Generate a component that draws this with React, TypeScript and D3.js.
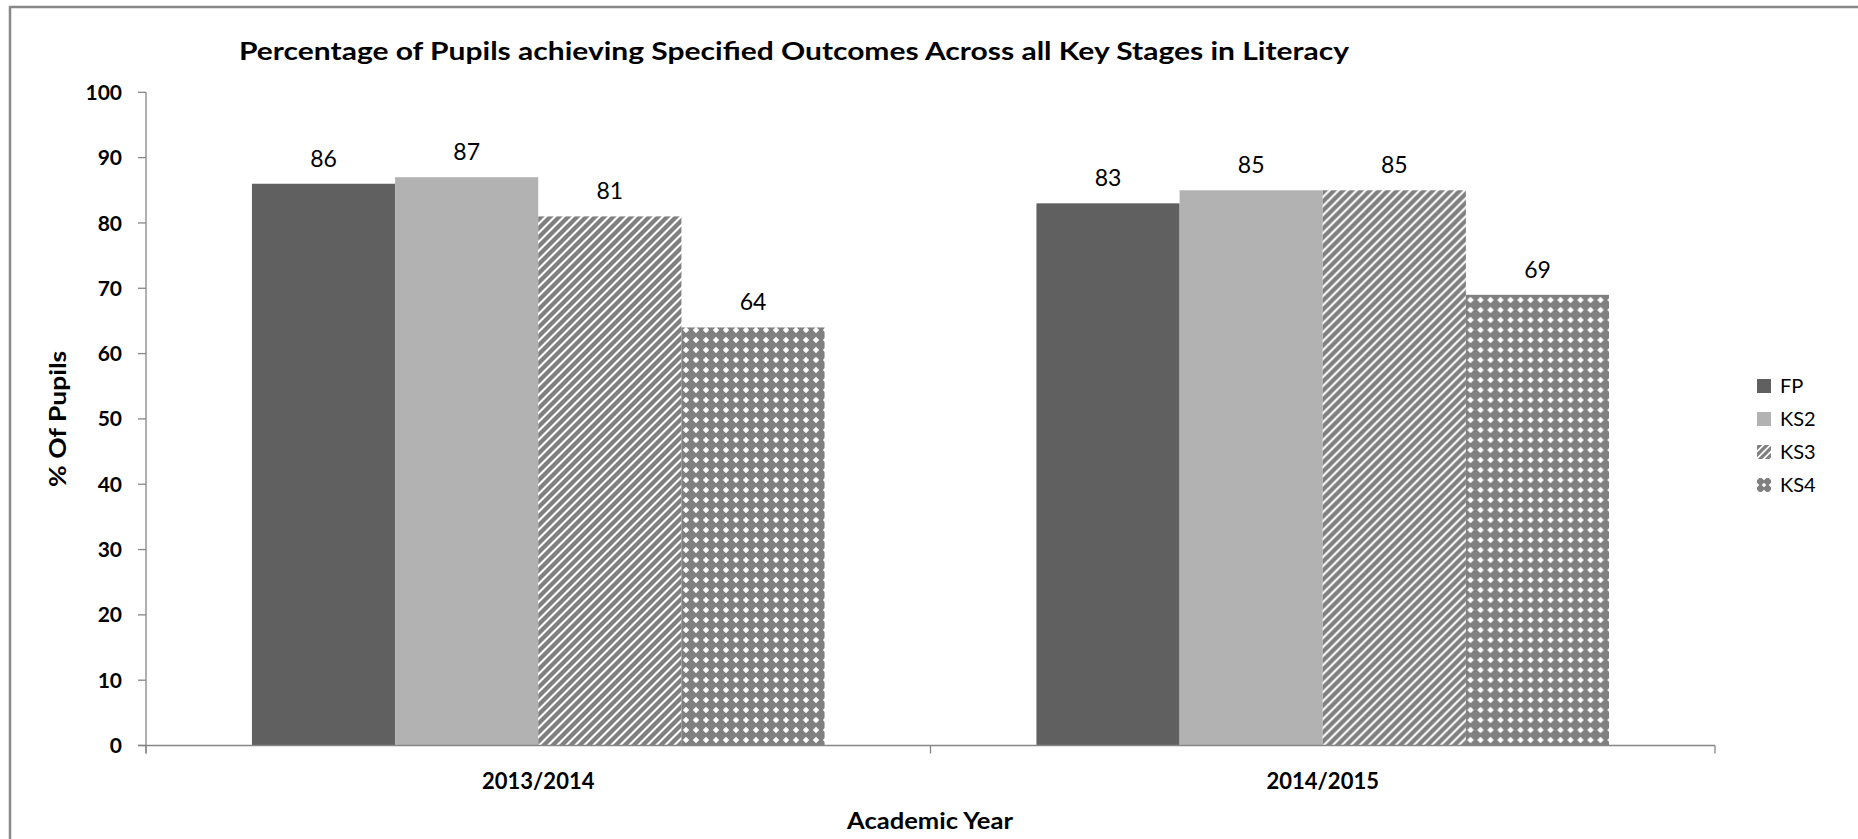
import React from 'react';
import * as d3 from 'd3';

const categories = ['2013/2014', '2014/2015'];
const seriesNames = ['FP', 'KS2', 'KS3', 'KS4'];
const fpValues = [86, 83];
const ks2Values = [87, 85];
const ks3Values = [81, 85];
const ks4Values = [64, 69];
const yTicks = [0, 10, 20, 30, 40, 50, 60, 70, 80, 90, 100];
const titleText = 'Percentage of Pupils achieving Specified Outcomes Across all Key Stages in Literacy';
const yAxisTitle = '% Of Pupils';
const xAxisTitle = 'Academic Year';

const W = 1858;
const H = 839;
const FONT = 'Lato, "Open Sans", sans-serif';
const AXIS = '#868686';
const PAT = '#808080';

const seriesValues: number[][] = [fpValues, ks2Values, ks3Values, ks4Values];
const fills = ['#606060', '#b2b2b2', 'url(#ks3pat)', 'url(#ks4pat)'];

export default function App() {
  const x0 = d3.scaleBand<string>().domain(categories).range([146, 1715]).paddingInner(0).paddingOuter(0);
  const x1 = d3.scaleBand<string>().domain(seriesNames).range([0, x0.bandwidth()]).paddingInner(0).paddingOuter(0.74);
  const y = d3.scaleLinear().domain([0, 100]).range([745.5, 92.3]);
  const plotLeft = x0.range()[0];
  const plotRight = x0.range()[1];
  const y0 = y(0);

  const legendY = [386, 419, 452, 485];

  return (
    <svg width={W} height={H} style={{ position: 'absolute', left: 0, top: 0 }} fontFamily={FONT}>
      <defs>
        <pattern id="ks3pat" patternUnits="userSpaceOnUse" width={9} height={9}>
          <rect width={9} height={9} fill="#ffffff" />
          <path d="M-2.25,2.25 L2.25,-2.25 M0,9 L9,0 M6.75,11.25 L11.25,6.75" stroke={PAT} strokeWidth={4.3} />
        </pattern>
        <pattern id="ks4pat" patternUnits="userSpaceOnUse" width={10} height={10}>
          <rect width={10} height={10} fill={PAT} />
          <path d="M0,-3.2 L3.2,0 L0,3.2 L-3.2,0 Z M10,-3.2 L13.2,0 L10,3.2 L6.8,0 Z M0,6.8 L3.2,10 L0,13.2 L-3.2,10 Z M10,6.8 L13.2,10 L10,13.2 L6.8,10 Z" fill="#ffffff" />
        </pattern>
        <pattern id="ks4leg" patternUnits="userSpaceOnUse" width={7} height={7} x={1757} y={478}>
          <rect width={7} height={7} fill={PAT} />
          <path d="M0,-2.3 L2.3,0 L0,2.3 L-2.3,0 Z M7,-2.3 L9.3,0 L7,2.3 L4.7,0 Z M0,4.7 L2.3,7 L0,9.3 L-2.3,7 Z M7,4.7 L9.3,7 L7,9.3 L4.7,7 Z" fill="#ffffff" />
        </pattern>
        <pattern id="ks3leg" patternUnits="userSpaceOnUse" width={7} height={7}>
          <rect width={7} height={7} fill="#ffffff" />
          <path d="M-1.75,1.75 L1.75,-1.75 M0,7 L7,0 M5.25,8.75 L8.75,5.25" stroke={PAT} strokeWidth={3.3} />
        </pattern>
      </defs>
      <rect x={0} y={0} width={W} height={H} fill="#ffffff" />
      {/* outer frame */}
      <rect x={10} y={7} width={W + 20} height={H + 20} fill="none" stroke="#888888" strokeWidth={2.5} />

      {/* title */}
      <text x={794} y={60} textAnchor="middle" fontSize={25} fontWeight="bold" fill="#000" textLength={1110} lengthAdjust="spacingAndGlyphs">
        {titleText}
      </text>

      {/* bars */}
      {categories.map((cat, ci) => (
        <g key={cat} transform={`translate(${x0(cat)},0)`}>
          {seriesNames.map((s, si) => {
            const v = seriesValues[si][ci];
            const bx = x1(s) as number;
            const bw = x1.bandwidth();
            return (
              <g key={s}>
                <rect x={bx} y={y(v)} width={bw} height={y0 - y(v)} fill={fills[si]} />
                <text x={bx + bw / 2} y={y(v) - 17} textAnchor="middle" fontSize={23} fill="#000">
                  {v}
                </text>
              </g>
            );
          })}
        </g>
      ))}

      {/* y axis */}
      <line x1={plotLeft} x2={plotLeft} y1={y(100)} y2={y0 + 8} stroke={AXIS} strokeWidth={1.3} />
      {yTicks.map((t) => (
        <g key={t}>
          <line x1={plotLeft - 8} x2={plotLeft} y1={y(t)} y2={y(t)} stroke={AXIS} strokeWidth={1.3} />
          <text x={122} y={y(t)} dy="0.36em" textAnchor="end" fontSize={21} fontWeight="bold" fill="#000">
            {t}
          </text>
        </g>
      ))}

      {/* x axis */}
      <line x1={plotLeft - 8} x2={plotRight} y1={y0} y2={y0} stroke={AXIS} strokeWidth={1.3} />
      {[plotLeft, ...categories.map((c) => (x0(c) as number) + x0.bandwidth())].map((xx, i) => (
        <line key={i} x1={xx} x2={xx} y1={y0} y2={y0 + 8} stroke={AXIS} strokeWidth={1.3} />
      ))}
      {categories.map((c) => (
        <text key={c} x={(x0(c) as number) + x0.bandwidth() / 2} y={789} textAnchor="middle" fontSize={22} fontWeight="bold" fill="#000">
          {c}
        </text>
      ))}

      {/* axis titles */}
      <text transform={`translate(66,${(y(100) + y0) / 2}) rotate(-90)`} textAnchor="middle" fontSize={22} fontWeight="bold" fill="#000" textLength={136} lengthAdjust="spacingAndGlyphs">
        {yAxisTitle}
      </text>
      <text x={930} y={829} textAnchor="middle" fontSize={23} fontWeight="bold" fill="#000" textLength={166} lengthAdjust="spacingAndGlyphs">
        {xAxisTitle}
      </text>

      {/* legend */}
      {seriesNames.map((s, i) => (
        <g key={s}>
          <rect x={1757} y={legendY[i] - 7} width={14} height={14} fill={i === 2 ? 'url(#ks3leg)' : i === 3 ? 'url(#ks4leg)' : fills[i]} />
          <text x={1780} y={legendY[i]} dy="0.36em" fontSize={20} fill="#000">
            {s}
          </text>
        </g>
      ))}
    </svg>
  );
}
